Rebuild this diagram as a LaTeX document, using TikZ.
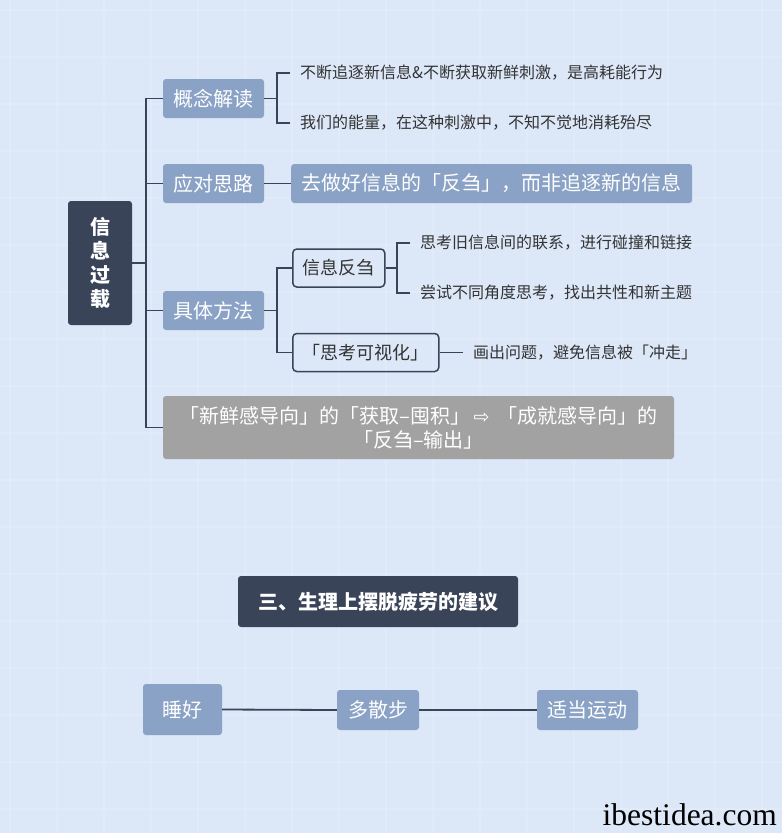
\documentclass[tikz,border=0pt]{standalone}
\usepackage{fontspec}
\setmainfont{Noto Sans CJK SC}
\newfontfamily\symfont{DejaVu Sans}
\newfontfamily\wmfont{Liberation Serif}
\usetikzlibrary{calc}
\definecolor{bg}{HTML}{DCE7F8}
\definecolor{dark}{HTML}{3A4458}
\definecolor{nodeblue}{HTML}{8AA2C6}
\definecolor{txt}{HTML}{333333}
\definecolor{sumgray}{HTML}{A2A2A2}

\begin{document}
\begin{tikzpicture}[x=1pt,y=-1pt,
    link/.style={draw=dark,line width=1.8pt},
    topic/.style={fill=nodeblue,text=white,rounded corners=3pt,inner sep=0pt,
      font=\fontsize{20}{24}\selectfont,minimum height=39pt,minimum width=101pt},
    frame/.style={draw=dark,line width=1.5pt,rounded corners=4pt,text=txt,inner sep=0pt,
      font=\fontsize{18}{22}\selectfont,minimum height=38pt},
    leaf/.style={anchor=west,text=txt,inner xsep=10pt,font=\fontsize{16}{19}\selectfont},
    darkbox/.style={fill=dark,text=white,rounded corners=3pt,inner sep=0pt,
      font=\bfseries\fontsize{20}{24}\selectfont}]
              \useasboundingbox (0,0) rectangle (782,833);
              \fill[bg] (0,0) rectangle (782,833);
              % \fill[top color=bg!90!dark,bottom color=bg] (0,0) rectangle (782,833);
              \foreach \x in {10,57,104,151,198,245,292,339,386,433,480,527,574,621,668,715,762}
                \draw[white,opacity=0.13,line width=2pt] (\x,0) -- (\x,833);
              \foreach \y in {10,57,104,151,198,245,292,339,386,433,480,527,574,621,668,715,762,809}
                \draw[white,opacity=0.13,line width=2pt] (0,\y) -- (782,\y);
              % root and first level
              \node[darkbox,minimum width=64pt,minimum height=124pt,align=center] (R) at (100,263) {信\\息\\过\\载};
              \coordinate (T) at (146,263);
              \node[topic] (A) at (213.5,98.5) {概念解读};
              \node[topic] (B) at (213.5,183.5) {应对思路};
              \node[topic] (C) at (213.5,310.5) {具体方法};
              \node[fill=sumgray,text=white,rounded corners=3pt,minimum width=511pt,minimum height=63pt,
                align=center,font=\fontsize{20}{24}\selectfont] (D) at (418.5,427.5)
                {「新鲜感导向」的「获取–囤积」\,{\symfont\fontsize{19}{20}\selectfont ⇨}\, 「成就感导向」的\\「反刍–输出」};
              \draw[link] (R.east) -- (T);
              \draw[link] (T) |- (A.west);
              \draw[link] (T) |- (B.west);
              \draw[link] (T) |- (C.west);
              \draw[link] (T) |- (D.west);
              % concept
              \coordinate (AK) at (277,98.5);
              \node[leaf] (AA) at (290,73) {不断追逐新信息\&不断获取新鲜刺激，是高耗能行为};
              \node[leaf] (AB) at (290,123) {我们的能量，在这种刺激中，不知不觉地消耗殆尽};
              \draw[link] (A.east) -- (AK);
              \draw[link] (AK) |- (AA.west);
              \draw[link] (AK) |- (AB.west);
              % approach
              \node[topic,anchor=west,minimum width=401pt] (BA) at (291,183.5)
                {去做好信息的「反刍」，而非追逐新的信息};
              \draw[link] (B.east) -- (BA.west);
              % method
              \coordinate (CK) at (277,310.5);
              \node[frame,anchor=west,minimum width=92pt] (CA) at (292,268) {信息反刍};
              \node[frame,anchor=west,minimum width=146pt] (CB) at (292,352.5) {「思考可视化」};
              \draw[link] (C.east) -- (CK);
              \draw[link] (CK) |- (CA.west);
              \draw[link] (CK) |- (CB.west);
              \coordinate (CAK) at (397,268);
              \node[leaf] (CAA) at (410,243) {思考旧信息间的联系，进行碰撞和链接};
              \node[leaf] (CAB) at (410,293) {尝试不同角度思考，找出共性和新主题};
              \draw[link] (CA.east) -- (CAK);
              \draw[link] (CAK) |- (CAA.west);
              \draw[link] (CAK) |- (CAB.west);
              \node[leaf] (CBA) at (463,352.5) {画出问题，避免信息被「冲走」};
              \draw[link] (CB.east) -- (CBA.west);
              % second part
              \node[darkbox,minimum width=280pt,minimum height=51pt] (S) at (378,601.5)
                {三、生理上摆脱疲劳的建议};
              \node[topic,minimum width=79pt,minimum height=51pt] (SA) at (182.5,709.5) {睡好};
              \node[topic,minimum width=82pt,minimum height=40pt] (SB) at (378,710) {多散步};
              \node[topic,minimum width=101pt,minimum height=40pt] (SC) at (587.5,710) {适当运动};
              \draw[link] (SA.east) -- (SB.west);
              \draw[link] (SB.east) -- (SC.west);
              % \draw[link] (S.south) -- (SB.north);
              \node[anchor=south east,inner sep=0pt,font=\wmfont\fontsize{31.5}{32}\selectfont] (W) at (777,826)
                {ibestidea.com};
            \end{tikzpicture}
\end{document}
